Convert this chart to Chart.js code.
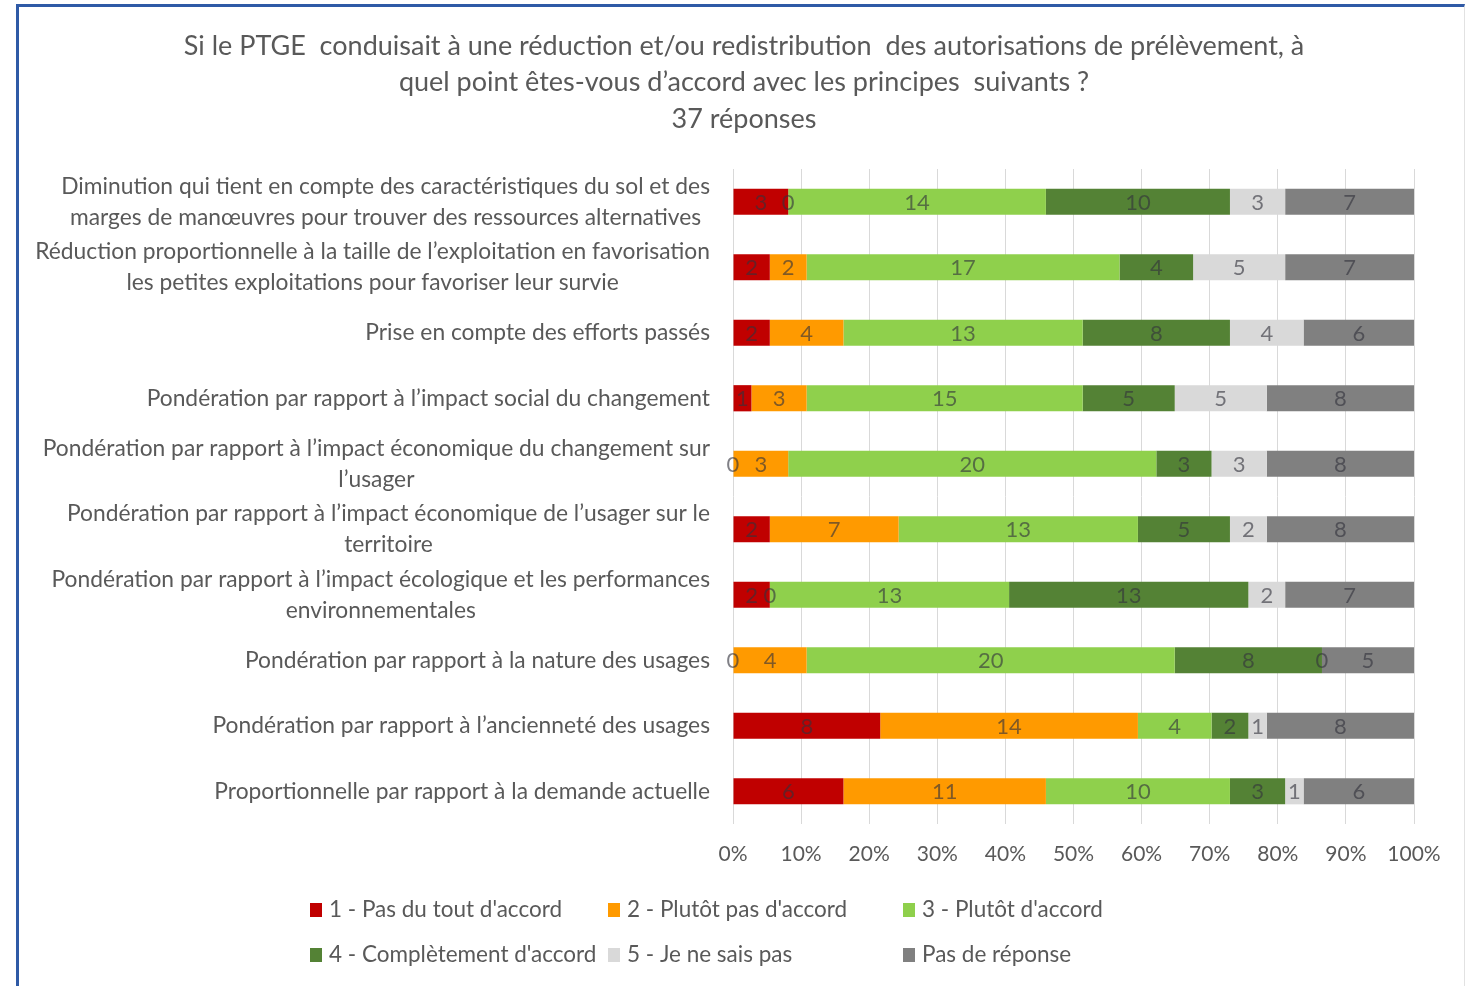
<!DOCTYPE html>
<html lang="fr">
<head>
<meta charset="utf-8">
<title>PTGE - principes de réduction des autorisations</title>
<script src="https://cdn.jsdelivr.net/npm/chart.js@4.4.1/dist/chart.umd.min.js"></script>
<style>
  html, body { margin: 0; padding: 0; background: #fff; }
  #wrap { position: relative; width: 1473px; height: 986px; overflow: hidden; }
  #frame {
    position: absolute; left: 16px; top: 4px; right: 8px; bottom: -10px;
    border-top: 3px solid #2f5aa6; border-left: 3px solid #2f5aa6; border-right: 1px solid #e2e2e2;
  }
</style>
</head>
<body>
<div id="wrap">
  <canvas id="chart" width="1473" height="986"></canvas>
  <div id="frame"></div>
</div>
<script>
// Title lines
const titleLines = [
    'Si le PTGE  conduisait à une réduction et/ou redistribution  des autorisations de prélèvement, à',
    'quel point êtes-vous d’accord avec les principes  suivants ?',
    '37 réponses'
];

// Categories (top to bottom), multi-line labels as arrays
const categories = [
    ['Diminution qui tient en compte des caractéristiques du sol et des', 'marges de manœuvres pour trouver des ressources alternatives'],
    ['Réduction proportionnelle à la taille de l’exploitation en favorisation', 'les petites exploitations pour favoriser leur survie'],
    ['Prise en compte des efforts passés'],
    ['Pondération par rapport à l’impact social du changement'],
    ['Pondération par rapport à l’impact économique du changement sur', 'l’usager'],
    ['Pondération par rapport à l’impact économique de l’usager sur le', 'territoire'],
    ['Pondération par rapport à l’impact écologique et les performances', 'environnementales'],
    ['Pondération par rapport à la nature des usages'],
    ['Pondération par rapport à l’ancienneté des usages'],
    ['Proportionnelle par rapport à la demande actuelle']
];

// Number of answers per series (37 responses)
const totalReponses = 37;
const pasDuToutDaccord     = [3, 2, 2, 1, 0, 2, 2, 0, 8, 6];
const plutotPasDaccord     = [0, 2, 4, 3, 3, 7, 0, 4, 14, 11];
const plutotDaccord        = [14, 17, 13, 15, 20, 13, 13, 20, 4, 10];
const completementDaccord  = [10, 4, 8, 5, 3, 5, 13, 8, 2, 3];
const jeNeSaisPas          = [3, 5, 4, 5, 3, 2, 2, 0, 1, 1];
const pasDeReponse         = [7, 7, 6, 8, 8, 8, 7, 5, 8, 6];

const seriesNames = [
    '1 - Pas du tout d\'accord',
    '2 - Plutôt pas d\'accord',
    '3 - Plutôt d\'accord',
    '4 - Complètement d\'accord',
    '5 - Je ne sais pas',
    'Pas de réponse'
];
const seriesCounts = [pasDuToutDaccord, plutotPasDaccord, plutotDaccord, completementDaccord, jeNeSaisPas, pasDeReponse];
const seriesColors = ['#c00000', '#ff9a00', '#8fd04c', '#548235', '#d9d9d9', '#808080'];

const xTickLabels = ['0%', '10%', '20%', '30%', '40%', '50%', '60%', '70%', '80%', '90%', '100%'];

const textColor = '#595959';
const fontFamily = 'Lato, Carlito, Calibri, sans-serif';
Chart.defaults.font.family = fontFamily;

/**
 * Count labels centred in each segment (zeros included, as in Excel)
 */
const segmentLabels = {
    id: 'segmentLabels',
    afterDatasetsDraw(chart) {
        const ctx = chart.ctx;
        ctx.save();
        ctx.font = '22px ' + fontFamily;
        ctx.fillStyle = 'rgba(50, 50, 60, 0.62)';
        ctx.textAlign = 'center';
        ctx.textBaseline = 'middle';
        chart.data.datasets.forEach((ds, di) => {
            const meta = chart.getDatasetMeta(di);
            meta.data.forEach((bar, i) => {
                const p = bar.getProps(['x', 'y', 'base'], true);
                ctx.fillText(String(ds.counts[i]), (p.x + p.base) / 2, p.y + 1);
            });
        });
        ctx.restore();
    }
};

/**
 * Title, category labels (right aligned block, lines centred) and legend grid
 */
const decorations = {
    id: 'decorations',
    afterDraw(chart) {
        const ctx = chart.ctx;
        const area = chart.chartArea;
        ctx.save();
        ctx.fillStyle = textColor;
        ctx.textBaseline = 'middle';

        // title
        ctx.font = '27px ' + fontFamily;
        ctx.textAlign = 'center';
        titleLines.forEach((line, k) => ctx.fillText(line, 744, 46 + k * 36.5));

        // category labels
        ctx.font = '22.8px ' + fontFamily;
        const yScale = chart.scales.y;
        const right = area.left - 23;
        categories.forEach((lines, i) => {
            const y = yScale.getPixelForTick(i);
            const w = Math.max(...lines.map(l => ctx.measureText(l).width));
            const cx = right - w / 2;
            lines.forEach((l, k) => ctx.fillText(l, cx, y + (k - (lines.length - 1) / 2) * 31));
        });

        // legend (3 columns x 2 rows)
        const cols = [310, 608, 903];
        const rows = [910, 955];
        ctx.font = '22.5px ' + fontFamily;
        ctx.textAlign = 'left';
        seriesNames.forEach((name, i) => {
            const x = cols[i % 3];
            const y = rows[Math.floor(i / 3)];
            ctx.fillStyle = seriesColors[i];
            ctx.fillRect(x, y - 7, 12, 14);
            ctx.fillStyle = textColor;
            ctx.fillText(name, x + 19, y);
        });
        ctx.restore();
    }
};

const datasets = seriesNames.map((name, i) => ({
    label: name,
    counts: seriesCounts[i],
    data: seriesCounts[i].map(v => v / totalReponses * 100),
    backgroundColor: seriesColors[i],
    borderWidth: 0,
    barPercentage: 0.4,
    categoryPercentage: 1.0
}));

new Chart(document.getElementById('chart'), {
    type: 'bar',
    data: {
        labels: categories.map(l => l.join(' ')),
        datasets: datasets
    },
    options: {
        indexAxis: 'y',
        responsive: false,
        animation: false,
        layout: {
            padding: { left: 20, right: 59, top: 169, bottom: 112 }
        },
        plugins: {
            legend: { display: false },
            title: { display: false },
            tooltip: { enabled: false }
        },
        scales: {
            x: {
                stacked: true,
                min: 0,
                max: 100,
                ticks: {
                    stepSize: 10,
                    padding: 18,
                    color: textColor,
                    font: { size: 21 },
                    callback: (v, i) => xTickLabels[i]
                },
                grid: { color: '#d9d9d9', drawTicks: false },
                border: { display: false },
                afterFit: s => { s.height = 50; }
            },
            y: {
                stacked: true,
                ticks: { display: false },
                grid: { display: false },
                border: { display: false },
                afterFit: s => { s.width = 713; }
            }
        }
    },
    plugins: [segmentLabels, decorations]
});
</script>
</body>
</html>
